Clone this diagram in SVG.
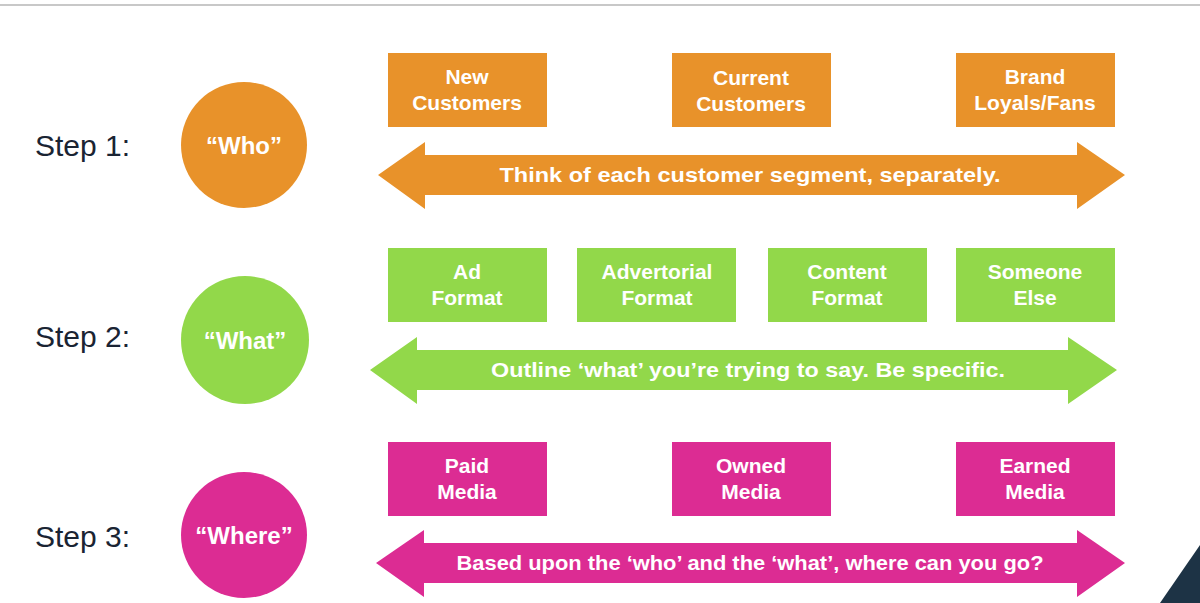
<svg xmlns="http://www.w3.org/2000/svg" width="1200" height="603" viewBox="0 0 1200 603">
<style>
.o{fill:#E8922A}.g{fill:#92D84A}.m{fill:#DC2C93}
.t{font-family:"Liberation Sans",Arial,sans-serif;font-weight:bold;fill:#fff;text-anchor:middle}
.b{font-size:21px}.a{font-size:21px}.c{font-size:24px}
.s{font-family:"Liberation Sans",Arial,sans-serif;font-size:30px;fill:#1a2433}
</style>
<rect width="1200" height="603" fill="#fff"/>
<rect x="0" y="4" width="1200" height="2" fill="#c8c8c8"/>
<path d="M1160 603 L1200 545 L1200 603 Z" fill="#1d3345"/>
<g id="labels">
<text class="s" x="35" y="156">Step 1:</text>
<text class="s" x="35" y="347">Step 2:</text>
<text class="s" x="35" y="547">Step 3:</text>
</g>
<g id="connectors">
<path class="o" d="M378 175 L425 142 L425 155 L1077 155 L1077 142 L1125 175 L1077 209 L1077 195 L425 195 L425 209 Z"/>
<text class="t a" x="750" y="182" textLength="501" lengthAdjust="spacingAndGlyphs">Think of each customer segment, separately.</text>
<path class="g" d="M370 370 L417 337 L417 350 L1068 350 L1068 337 L1117 370 L1068 404 L1068 390 L417 390 L417 404 Z"/>
<text class="t a" x="748" y="377" textLength="514" lengthAdjust="spacingAndGlyphs">Outline ‘what’ you’re trying to say. Be specific.</text>
<path class="m" d="M376 563 L424 530 L424 543 L1077 543 L1077 530 L1125 563 L1077 597 L1077 583 L424 583 L424 597 Z"/>
<text class="t a" x="750" y="570" textLength="587" lengthAdjust="spacingAndGlyphs">Based upon the ‘who’ and the ‘what’, where can you go?</text>
</g>
<g id="who"><circle class="o" cx="244" cy="145" r="63"/><text class="t c" x="244" y="154">“Who”</text></g>
<g id="what"><circle class="g" cx="245" cy="340" r="64"/><text class="t c" x="245" y="349">“What”</text></g>
<g id="where"><circle class="m" cx="244" cy="535" r="63"/><text class="t c" x="244" y="544">“Where”</text></g>
<g id="new"><rect class="o" x="388" y="53" width="159" height="74"/><text class="t b" x="467" y="84">New</text><text class="t b" x="467" y="110">Customers</text></g>
<g id="current"><rect class="o" x="672" y="53" width="159" height="74"/><text class="t b" x="751" y="85">Current</text><text class="t b" x="751" y="111">Customers</text></g>
<g id="brand"><rect class="o" x="956" y="53" width="159" height="74"/><text class="t b" x="1035" y="84">Brand</text><text class="t b" x="1035" y="110">Loyals/Fans</text></g>
<g id="ad"><rect class="g" x="388" y="248" width="159" height="74"/><text class="t b" x="467" y="279">Ad</text><text class="t b" x="467" y="305">Format</text></g>
<g id="advertorial"><rect class="g" x="577" y="248" width="159" height="74"/><text class="t b" x="657" y="279">Advertorial</text><text class="t b" x="657" y="305">Format</text></g>
<g id="content"><rect class="g" x="768" y="248" width="159" height="74"/><text class="t b" x="847" y="279">Content</text><text class="t b" x="847" y="305">Format</text></g>
<g id="someone"><rect class="g" x="956" y="248" width="159" height="74"/><text class="t b" x="1035" y="279">Someone</text><text class="t b" x="1035" y="305">Else</text></g>
<g id="paid"><rect class="m" x="388" y="442" width="159" height="74"/><text class="t b" x="467" y="473">Paid</text><text class="t b" x="467" y="499">Media</text></g>
<g id="owned"><rect class="m" x="672" y="442" width="159" height="74"/><text class="t b" x="751" y="473">Owned</text><text class="t b" x="751" y="499">Media</text></g>
<g id="earned"><rect class="m" x="956" y="442" width="159" height="74"/><text class="t b" x="1035" y="473">Earned</text><text class="t b" x="1035" y="499">Media</text></g>
</svg>
